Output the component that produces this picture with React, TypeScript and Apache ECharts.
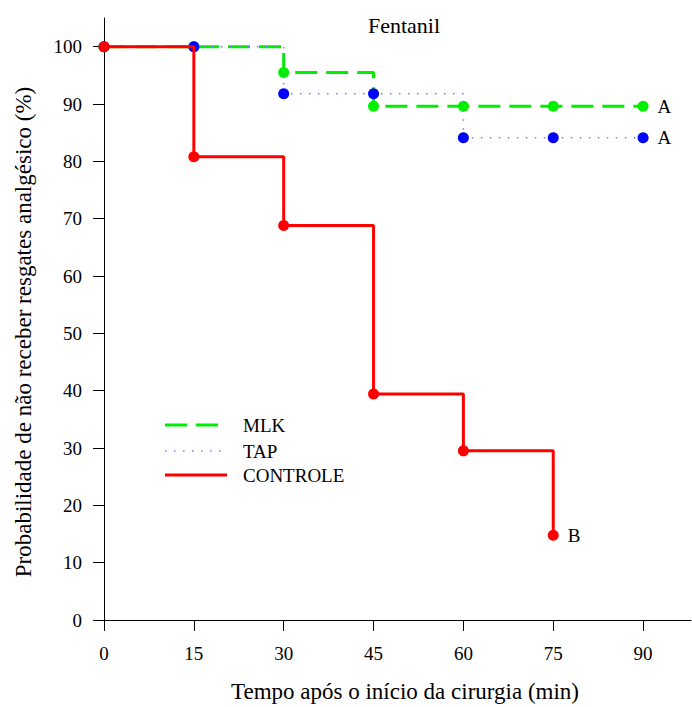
import React, { useEffect, useRef } from "react";
import * as echarts from "echarts";

const times = [0, 15, 30, 45, 60, 75, 90];
const mlk = [100, 100, 95.5, 89.6, 89.6, 89.6, 89.6];
const tap = [100, 100, 91.8, 91.8, 84.1, 84.1, 84.1];
const controle = [100, 80.8, 68.8, 39.4, 29.5, 14.8];
const seriesNames = ["MLK", "TAP", "CONTROLE"];
const endLabels = ["A", "A", "B"];
const xTicks = [0, 15, 30, 45, 60, 75, 90];
const yTicks = [0, 10, 20, 30, 40, 50, 60, 70, 80, 90, 100];
const chartTitle = "Fentanil";
const xTitle = "Tempo após o início da cirurgia (min)";
const yTitle = "Probabilidade de não receber resgates analgésico (%)";

const FONT = "'Liberation Serif', 'Times New Roman', serif";

export default function App() {
  const ref = useRef<HTMLDivElement>(null);
  useEffect(() => {
    if (!ref.current) return;
    const chart = echarts.init(ref.current, null, { renderer: "svg" });
    const values = [mlk, tap, controle];
    const colors = ["#00ee00", "#0000ff", "#ff0000"];
    const lineColors = ["#00ee00", "#7b7bf0", "#ff0000"];
    const lineTypes: any[] = [[22, 9], [1.5, 7.5], "solid"];
    const lineWidths = [3, 1.5, 3];
    const series = values.map((vals, si) => ({
      type: "line",
      name: seriesNames[si],
      step: "end",
      symbol: "circle",
      symbolSize: 11,
      showSymbol: true,
      itemStyle: { color: colors[si] },
      lineStyle: { color: lineColors[si], width: lineWidths[si], type: lineTypes[si] },
      data: vals.map((v, i) => {
        const item: any = { value: [times[i], v] };
        if (i === vals.length - 1) {
          item.label = {
            show: true,
            position: "right",
            distance: 9,
            formatter: endLabels[si],
            color: "#000",
            fontFamily: FONT,
            fontSize: 19,
          };
        }
        return item;
      }),
      z: 2 + si,
    }));
    const legendY = [425, 451, 475];
    const g: any[] = [];
    seriesNames.forEach((n, i) => {
      g.push({
        type: "line",
        shape: { x1: 165, y1: legendY[i], x2: 227, y2: legendY[i] },
        style: { stroke: lineColors[i], lineWidth: lineWidths[i], lineDash: lineTypes[i] === "solid" ? null : lineTypes[i] },
      });
      g.push({
        type: "text",
        x: 243,
        y: legendY[i],
        style: { text: n, font: `19px ${FONT}`, fill: "#000", verticalAlign: "middle", align: "left" },
      });
    });
    g.push({
      type: "text",
      x: 404,
      y: 25,
      style: { text: chartTitle, font: `22px ${FONT}`, fill: "#000", verticalAlign: "middle", align: "center" },
    });
    g.push({
      type: "text",
      x: 405,
      y: 691,
      style: { text: xTitle, font: `23px ${FONT}`, fill: "#000", verticalAlign: "middle", align: "center" },
    });
    g.push({
      type: "text",
      x: 23,
      y: 332,
      rotation: Math.PI / 2,
      style: { text: yTitle, font: `23px ${FONT}`, fill: "#000", verticalAlign: "middle", align: "center" },
    });
    chart.setOption({
      animation: false,
      backgroundColor: "#fff",
      grid: { left: 104, top: 18, width: 587, height: 602 },
      xAxis: {
        type: "value",
        min: 0,
        max: 98,
        axisLine: { onZero: false, lineStyle: { color: "#000", width: 1 } },
        axisTick: { show: true, length: 11, inside: false, customValues: xTicks, lineStyle: { color: "#000" } },
        axisLabel: { customValues: xTicks, margin: 24, fontFamily: FONT, fontSize: 19, color: "#000" },
        splitLine: { show: false },
      },
      yAxis: {
        type: "value",
        min: 0,
        max: 105,
        axisLine: { show: true, onZero: false, lineStyle: { color: "#000", width: 1 } },
        axisTick: { show: true, length: 11, inside: false, customValues: yTicks, lineStyle: { color: "#000" } },
        axisLabel: { customValues: yTicks, margin: 22, fontFamily: FONT, fontSize: 19, color: "#000" },
        splitLine: { show: false },
      },
      graphic: g,
      series,
    });
    return () => chart.dispose();
  }, []);
  return <div ref={ref} style={{ position: "absolute", left: 0, top: 0, width: 692, height: 707 }} />;
}
